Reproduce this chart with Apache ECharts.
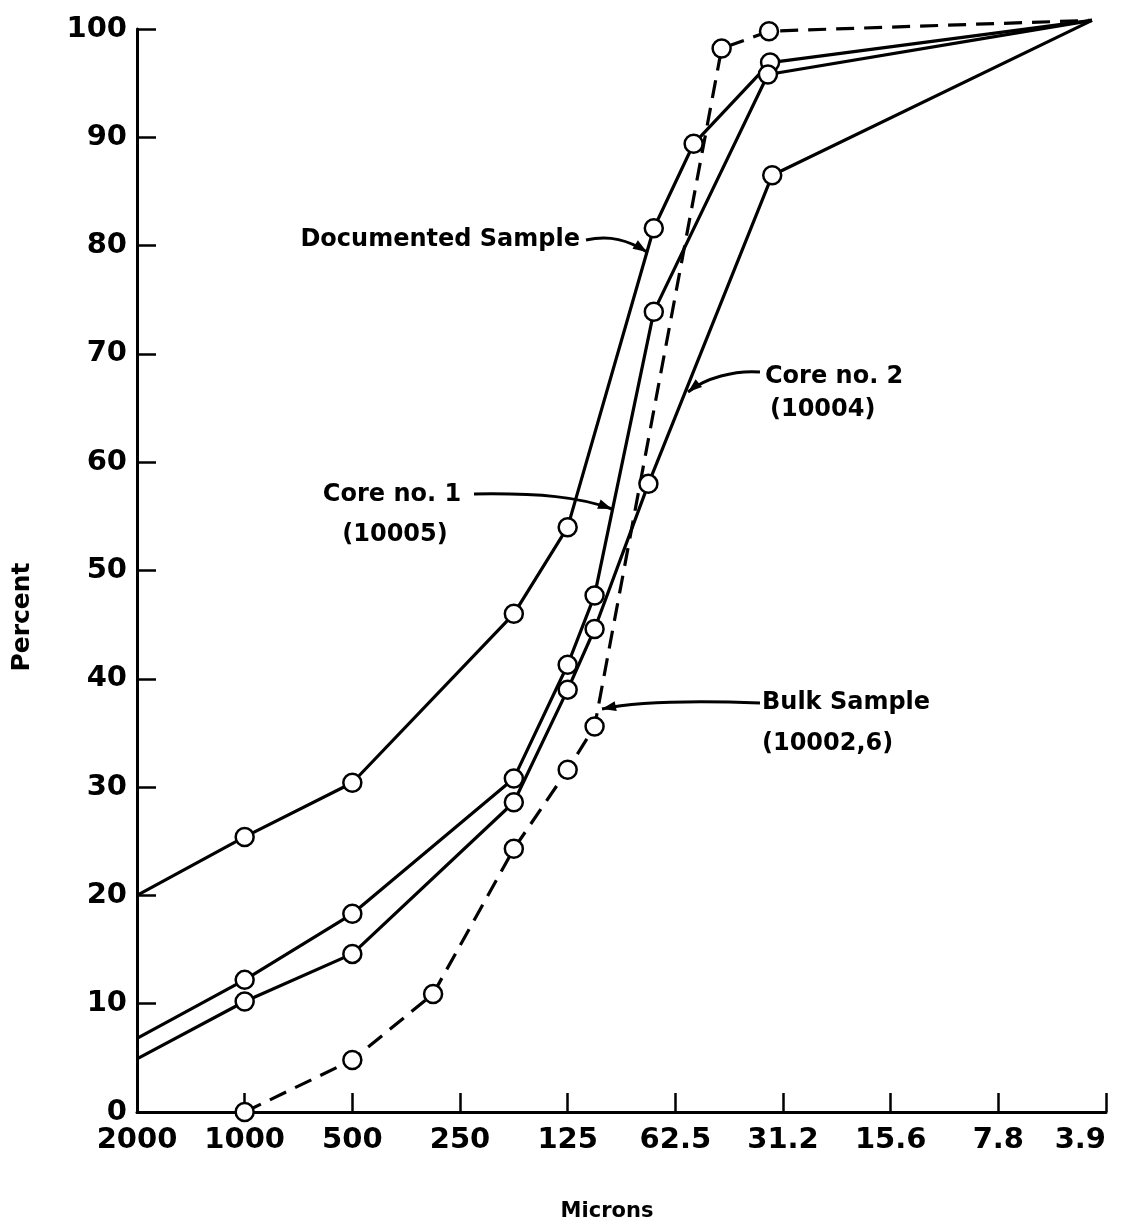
<!DOCTYPE html>
<html>
<head>
<meta charset="utf-8">
<script src="https://cdn.jsdelivr.net/npm/echarts@6/dist/echarts.min.js"></script>
<style>
  html, body { margin: 0; background: #fff; }
  #chart { width: 1122px; height: 1229px; }
</style>
</head>
<body>
<div id="chart"></div>
<script>
// x is in phi steps (one per halving of grain size): -1 = 2000 µm ... 8 = 3.9 µm
const X_TICKS = ['2000', '1000', '500', '250', '125', '62.5', '31.2', '15.6', '7.8', '3.9'];

const DOC_X = [-1, 0, 1, 2.5, 3.0, 3.8, 4.17, 4.88, 7.87];
const DOC_Y = [20.0, 25.4, 30.4, 46.0, 54.0, 81.6, 89.4, 96.9, 100.8];

const CORE1_X = [-1, 0, 1, 2.5, 3.0, 3.25, 3.8, 4.86, 7.87];
const CORE1_Y = [6.8, 12.2, 18.3, 30.8, 41.3, 47.7, 73.9, 95.8, 100.8];

const CORE2_X = [-1, 0, 1, 2.5, 3.0, 3.25, 3.75, 4.9, 7.87];
const CORE2_Y = [4.9, 10.2, 14.6, 28.6, 39.0, 44.6, 58.0, 86.5, 100.8];

const BULK_X = [0, 1, 1.75, 2.5, 3.0, 3.25, 4.43, 4.87, 7.87];
const BULK_Y = [0, 4.8, 10.9, 24.3, 31.6, 35.6, 98.2, 99.8, 100.8];

// callout texts and their leader arrows (pixel positions on the page)
const NOTES = [
  { text: 'Documented Sample', x: 580, y: 240, align: 'right' },
  { text: 'Core no. 1', x: 392, y: 495, align: 'center' },
  { text: '(10005)', x: 395, y: 535, align: 'center' },
  { text: 'Core no. 2', x: 765, y: 377, align: 'left' },
  { text: '(10004)', x: 770, y: 410, align: 'left' },
  { text: 'Bulk Sample', x: 762, y: 703, align: 'left' },
  { text: '(10002,6)', x: 762, y: 744, align: 'left' },
];
const ARROWS = [
  [[586, 240], [610, 235], [628, 240], [647, 252]],
  [[474, 494], [540, 493], [580, 497], [612, 509]],
  [[760, 372], [735, 370], [705, 378], [688, 392]],
  [[760, 703], [680, 700], [630, 703], [602, 709]],
];

const FONT = '"DejaVu Sans", sans-serif';
const INK = '#000';

// end points on the axis / at 3.9 µm carry no circle
function pts(xs, ys) {
  return xs.map((x, i) => ({
    value: [x, ys[i]],
    symbol: (x === -1 || i === xs.length - 1) ? 'none' : 'circle',
  }));
}

function curve(name, xs, ys, dashed) {
  return {
    name, type: 'line', data: pts(xs, ys), clip: false,
    showAllSymbol: true, symbol: 'circle', symbolSize: 18,
    itemStyle: { color: '#fff', borderColor: INK, borderWidth: 2.5 },
    lineStyle: { color: INK, width: 3.2, type: dashed ? [18, 10] : 'solid' },
    emphasis: { disabled: true },
  };
}

function arrowHead(p, q) {
  const a = Math.atan2(q[1] - p[1], q[0] - p[0]);
  const L = 14, W = 5;
  const bx = q[0] - L * Math.cos(a), by = q[1] - L * Math.sin(a);
  return [q, [bx + W * Math.sin(a), by - W * Math.cos(a)], [bx - W * Math.sin(a), by + W * Math.cos(a)]];
}

const graphic = [];
NOTES.forEach(n => graphic.push({
  type: 'text', x: n.x, y: n.y, silent: true,
  style: { text: n.text, fill: INK, font: 'bold 24px ' + FONT, align: n.align, verticalAlign: 'middle' },
}));
ARROWS.forEach(a => {
  graphic.push({
    type: 'bezierCurve', silent: true,
    shape: { x1: a[0][0], y1: a[0][1], cpx1: a[1][0], cpy1: a[1][1], cpx2: a[2][0], cpy2: a[2][1], x2: a[3][0], y2: a[3][1] },
    style: { stroke: INK, lineWidth: 3, fill: null },
  });
  graphic.push({ type: 'polygon', silent: true, shape: { points: arrowHead(a[2], a[3]) }, style: { fill: INK } });
});
graphic.push({
  type: 'text', x: 22, y: 617, rotation: Math.PI / 2, silent: true,
  style: { text: 'Percent', fill: INK, font: 'bold 25px ' + FONT, align: 'center', verticalAlign: 'middle' },
});
graphic.push({
  type: 'text', x: 607, y: 1212, silent: true,
  style: { text: 'Microns', fill: INK, font: 'bold 21px ' + FONT, align: 'center', verticalAlign: 'middle' },
});

const axisCommon = {
  axisTick: { show: true, inside: true, length: 19, lineStyle: { color: INK, width: 2.5 } },
  splitLine: { show: false },
};

const chart = echarts.init(document.getElementById('chart'));
chart.setOption({
  backgroundColor: '#fff',
  animation: false,
  grid: { left: 137, right: 16, top: 29, bottom: 117, outerBoundsMode: 'none', containLabel: false },
  xAxis: Object.assign({
    type: 'value', min: -1, max: 8, interval: 1,
    axisLine: { show: true, onZero: false, lineStyle: { color: INK, width: 3 } },
    axisLabel: {
      color: INK, fontFamily: FONT, fontWeight: 'bold', fontSize: 29, margin: 14,
      alignMaxLabel: 'right',
      formatter: v => X_TICKS[Math.round(v) + 1] || '',
    },
  }, axisCommon),
  yAxis: Object.assign({
    type: 'value', min: 0, max: 100, interval: 10,
    axisLine: { show: true, onZero: false, lineStyle: { color: INK, width: 3 } },
    axisLabel: { color: INK, fontFamily: FONT, fontWeight: 'bold', fontSize: 29, margin: 10 },
  }, axisCommon),
  series: [
    curve('Documented Sample', DOC_X, DOC_Y, false),
    curve('Core no. 1 (10005)', CORE1_X, CORE1_Y, false),
    curve('Core no. 2 (10004)', CORE2_X, CORE2_Y, false),
    curve('Bulk Sample (10002,6)', BULK_X, BULK_Y, true),
  ],
  graphic,
});
</script>
</body>
</html>
